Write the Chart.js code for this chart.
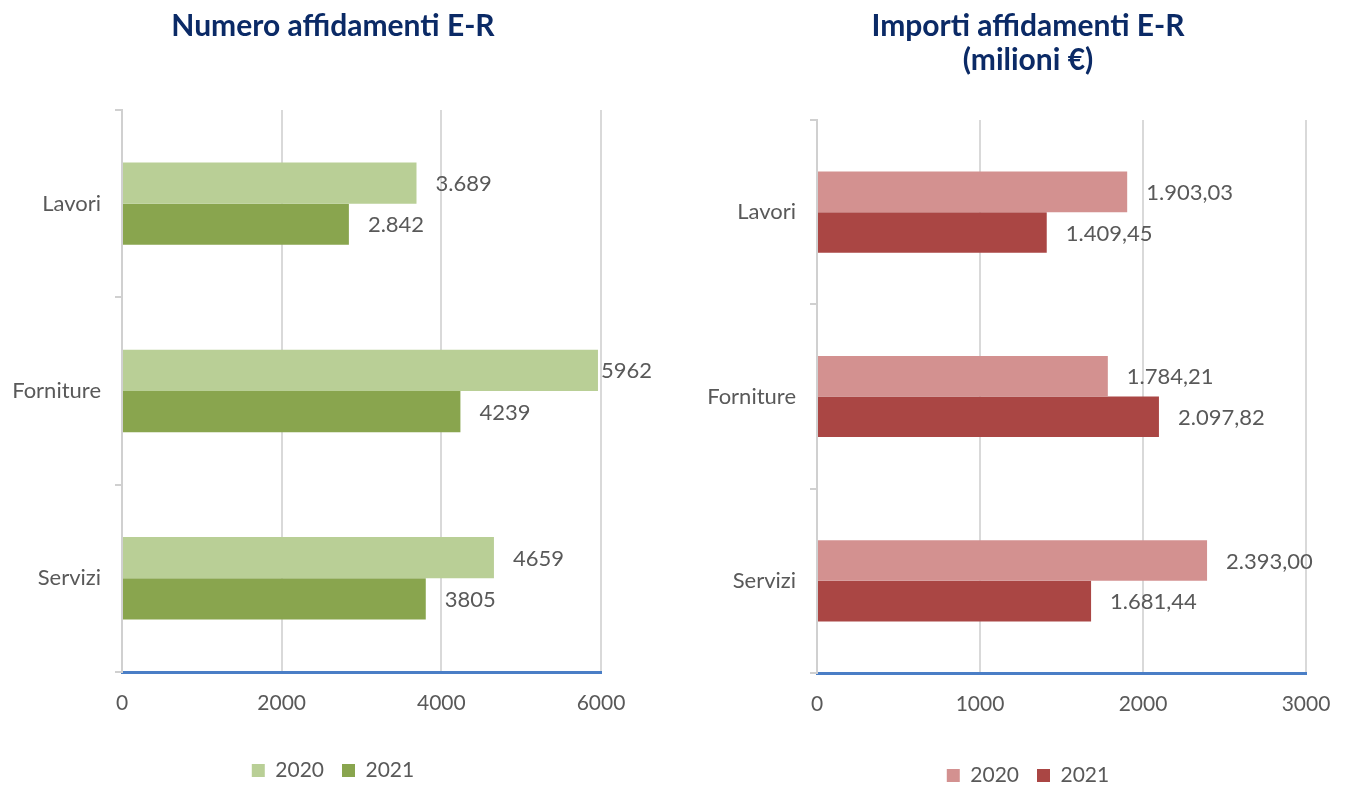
<!DOCTYPE html>
<html>
<head>
<meta charset="utf-8">
<title>Affidamenti E-R</title>
<script src="https://cdn.jsdelivr.net/npm/chart.js@4.4.1/dist/chart.umd.min.js"></script>
<style>
  html, body { margin:0; padding:0; background:#fff; overflow:hidden; }
  .box { position:absolute; top:0; height:787px; }
  #boxNum { left:0; width:675px; }
  #boxImp { left:675px; width:674px; }
</style>
</head>
<body>
<div class="box" id="boxNum"><canvas id="chartNum"></canvas></div>
<div class="box" id="boxImp"><canvas id="chartImp"></canvas></div>
<script>
// dati
const CATEGORIES = ["Lavori", "Forniture", "Servizi"];
const YEARS = ["2020", "2021"];

const NUM_2020 = [3689, 5962, 4659];
const NUM_2021 = [2842, 4239, 3805];
const NUM_LBL_2020 = ["3.689", "5962", "4659"];
const NUM_LBL_2021 = ["2.842", "4239", "3805"];
const NUM_TICKS = [0, 2000, 4000, 6000];

const IMP_2020 = [1903.03, 1784.21, 2393.00];
const IMP_2021 = [1409.45, 2097.82, 1681.44];
const IMP_LBL_2020 = ["1.903,03", "1.784,21", "2.393,00"];
const IMP_LBL_2021 = ["1.409,45", "2.097,82", "1.681,44"];
const IMP_TICKS = [0, 1000, 2000, 3000];

Chart.defaults.font.family = "Lato, 'Open Sans', sans-serif";
Chart.defaults.color = "#595959";

const TEXT_GREY = "#595959";
const FONT_SIZE = 21;
const LABEL_SIZE = 22;

// etichette valore a destra delle barre
const valueLabels = {
  id: "valueLabels",
  afterDatasetsDraw(chart) {
    const ctx = chart.ctx, area = chart.chartArea;
    ctx.save();
    ctx.font = LABEL_SIZE + "px Lato, 'Open Sans', sans-serif";
    ctx.fillStyle = TEXT_GREY;
    ctx.textBaseline = "middle";
    ctx.textAlign = "left";
    chart.data.datasets.forEach((ds, i) => {
      const meta = chart.getDatasetMeta(i);
      meta.data.forEach((bar, j) => {
        const txt = ds.valueLabels[j];
        const w = ctx.measureText(txt).width;
        let x = bar.x + 19;
        if (x + w > area.right + 20) x = bar.x + 3;
        ctx.fillText(txt, x, bar.y + 1);
      });
    });
    ctx.restore();
  }
};

function makeChart(id, o) {
  const ticks = o.ticks;
  return new Chart(document.getElementById(id), {
    type: "bar",
    data: {
      labels: CATEGORIES,
      datasets: [
        { label: YEARS[0], data: o.v2020, valueLabels: o.l2020, backgroundColor: o.c2020 },
        { label: YEARS[1], data: o.v2021, valueLabels: o.l2021, backgroundColor: o.c2021 }
      ]
    },
    options: {
      indexAxis: "y",
      responsive: true,
      maintainAspectRatio: false,
      animation: false,
      categoryPercentage: 0.44,
      barPercentage: 1,
      layout: { padding: { left: o.padL, right: o.padR, top: 0, bottom: 0 } },
      plugins: {
        tooltip: { enabled: false },
        title: {
          display: true,
          text: o.title,
          color: "#0b2a66",
          font: { size: 30, weight: "bold", lineHeight: 1.133 },
          padding: { top: 9.5, bottom: o.titleGap }
        },
        legend: {
          position: "bottom",
          maxHeight: o.legendH,
          labels: { boxWidth: 13, boxHeight: 13, padding: 18, color: TEXT_GREY, font: { size: FONT_SIZE } }
        }
      },
      scales: {
        x: {
          min: ticks[0],
          max: ticks[ticks.length - 1],
          ticks: { stepSize: ticks[1] - ticks[0], padding: 19, color: TEXT_GREY, font: { size: FONT_SIZE }, callback: v => String(v) },
          grid: { color: "#d9d9d9", lineWidth: 2, drawTicks: false },
          border: { color: "#4a7ec6", width: 3 },
          afterFit(s) { s.height = o.xAxisH; s.paddingRight = o.xPadR; }
        },
        y: {
          ticks: { padding: 14, color: TEXT_GREY, font: { size: LABEL_SIZE } },
          grid: { offset: true, drawOnChartArea: false, drawTicks: true, tickLength: 7, color: "#d0d0d0", lineWidth: 2 },
          border: { color: "#d0d0d0", width: 2 },
          afterFit(s) { s.width = o.yAxisW; s.paddingTop = 0; s.paddingBottom = 0; }
        }
      }
    },
    plugins: [valueLabels]
  });
}

makeChart("chartNum", {
  title: "Numero affidamenti E-R",
  v2020: NUM_2020, v2021: NUM_2021, l2020: NUM_LBL_2020, l2021: NUM_LBL_2021,
  c2020: "#b9cf96", c2021: "#89a54e",
  ticks: NUM_TICKS,
  padL: 0, padR: 9, titleGap: 66.5, legendH: 45, xAxisH: 70, xPadR: 74, yAxisW: 122
});

makeChart("chartImp", {
  title: ["Importi affidamenti E-R", "(milioni €)"],
  v2020: IMP_2020, v2021: IMP_2021, l2020: IMP_LBL_2020, l2021: IMP_LBL_2021,
  c2020: "#d39190", c2021: "#aa4644",
  ticks: IMP_TICKS,
  padL: 32, padR: 0, titleGap: 42.5, legendH: 40, xAxisH: 74, xPadR: 43, yAxisW: 110
});
</script>
</body>
</html>
